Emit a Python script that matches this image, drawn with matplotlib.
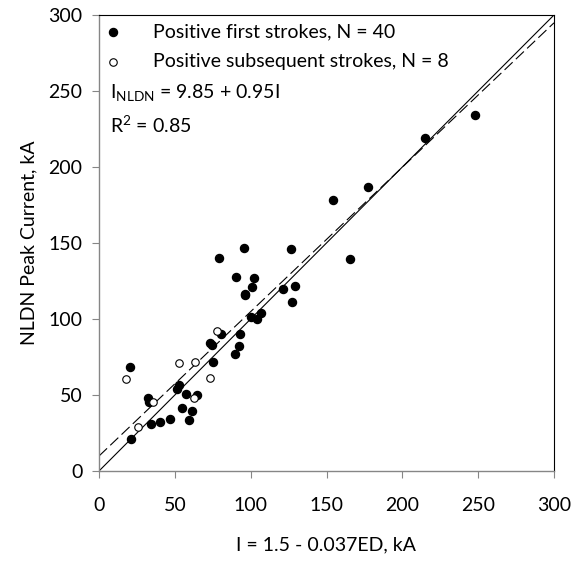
import matplotlib
matplotlib.use("Agg")
import numpy as np
import matplotlib.pyplot as plt

plt.rcParams["font.family"] = ["Lato", "DejaVu Sans"]
plt.rcParams["mathtext.fontset"] = "custom"
plt.rcParams["mathtext.rm"] = "Lato"
plt.rcParams["mathtext.it"] = "Lato"

# positive first strokes (N = 40)
first_x = [20.4, 21, 32, 32.9, 34.6, 40.1, 46.7, 52.5, 51.5, 54.8,
           57.2, 59.6, 61.6, 64.7, 73.5, 74.5, 75.2, 79.1, 80.7, 89.5,
           90.6, 92.1, 93.2, 95.4, 96.5, 100, 101.1, 102.2, 104.4, 107,
           121.3, 126.8, 127.4, 129.2, 154.2, 165.6, 177.6, 215, 248, 96]
first_y = [68.6, 21, 47.8, 45.6, 30.9, 32, 34.2, 56.5, 54, 41.2,
           50.7, 33.5, 39.7, 50, 84.5, 83, 71.9, 139.9, 89.9, 77,
           127.4, 82.4, 90, 147, 116.2, 101.5, 121.3, 126.8, 100, 103.7,
           119.5, 146.2, 111.2, 121.7, 178.3, 139.3, 187, 219, 234, 116]

# positive subsequent strokes (N = 8)
subs_x = [17.8, 25.4, 35.8, 52.9, 62.5, 63.2, 73.5, 77.6]
subs_y = [60.5, 29.2, 45.6, 70.8, 47.8, 71.9, 61.4, 92.1]

fit_a, fit_b = 9.85, 0.95

fig = plt.figure(figsize=(5.85, 5.64), dpi=100)
ax = fig.add_axes([99 / 585, 93 / 564, 455 / 585, 456 / 564])

line = np.array([0, 300])
ax.plot(line, line, color="black", lw=0.8, zorder=2)
ax.plot(line, fit_a + fit_b * line, color="black", lw=0.8,
        dashes=(10, 4), zorder=2)

ax.plot(first_x, first_y, "o", ms=5.8, color="black", mec="black", zorder=3)
ax.plot(subs_x, subs_y, "o", ms=5.4, mfc="white", mec="black", mew=0.8,
        zorder=4)

ax.set_xlim(0, 300)
ax.set_ylim(0, 300)
ax.set_xticks(np.arange(0, 301, 50))
ax.set_yticks(np.arange(0, 301, 50))
ax.tick_params(direction="out", length=5, width=0.8, labelsize=14,
               color="#868686")
ax.tick_params(axis="x", pad=14)
ax.tick_params(axis="y", pad=7)
for side in ("left", "bottom"):
    ax.spines[side].set_color("#868686")
    ax.spines[side].set_linewidth(1.0)
for side in ("top", "right"):
    ax.spines[side].set_color("black")
    ax.spines[side].set_linewidth(0.8)

ax.set_xlabel("I = 1.5 - 0.037ED, kA", fontsize=14, labelpad=16)
ax.set_ylabel("NLDN Peak Current, kA", fontsize=14, labelpad=8)

# key
ax.plot(0.031, 0.963, "o", ms=5.8, color="black", transform=ax.transAxes)
ax.plot(0.031, 0.897, "o", ms=5.4, mfc="white", mec="black", mew=0.8,
        transform=ax.transAxes)
ax.text(0.119, 0.963, "Positive first strokes, N = 40", fontsize=14,
        va="center", transform=ax.transAxes)
ax.text(0.119, 0.897, "Positive subsequent strokes, N = 8", fontsize=14,
        va="center", transform=ax.transAxes)
ax.text(0.024, 0.829, r"I$_{\mathrm{NLDN}}$ = 9.85 + 0.95I", fontsize=14,
        va="center", transform=ax.transAxes)
ax.text(0.024, 0.759, r"R$^{\mathrm{2}}$ = 0.85", fontsize=14,
        va="center", transform=ax.transAxes)

fig.savefig("out.png", dpi=100)
